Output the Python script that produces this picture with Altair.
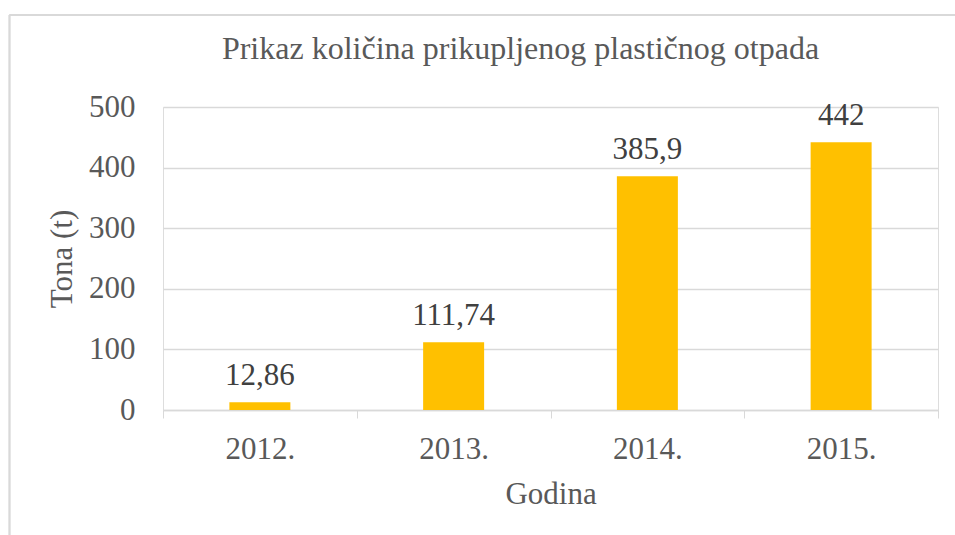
import altair as alt
import pandas as pd

years = ["2012.", "2013.", "2014.", "2015."]
values = [12.86, 111.74, 385.9, 442]
labels = ["12,86", "111,74", "385,9", "442"]

df = pd.DataFrame({"year": years, "value": values, "label": labels})

FONT = "Liberation Serif, 'Times New Roman', Times, serif"
TXT = "#595959"
GRID = "#d9d9d9"
W, H = 775, 303

x_enc = alt.X(
    "year:N",
    sort=years,
    scale=alt.Scale(paddingInner=0, paddingOuter=0),
    axis=alt.Axis(
        title="Godina",
        labelAngle=0,
        labelFont=FONT,
        labelFontSize=31,
        labelColor=TXT,
        labelBaseline="alphabetic",
        labelPadding=40,
        tickBand="extent",
        tickColor=GRID,
        tickSize=8,
        domainColor=GRID,
        domainWidth=1.5,
        grid=False,
        titleFont=FONT,
        titleFontSize=31,
        titleFontWeight="normal",
        titleColor=TXT,
        titleBaseline="alphabetic",
        titleAlign="center",
        titleX=W / 2,
        titleY=93,
    ),
)

y_enc = alt.Y(
    "value:Q",
    scale=alt.Scale(domain=[0, 500]),
    axis=alt.Axis(
        title="Tona (t)",
        values=[0, 100, 200, 300, 400, 500],
        labelFont=FONT,
        labelFontSize=31,
        labelColor=TXT,
        labelPadding=28,
        ticks=False,
        domain=False,
        gridColor=GRID,
        gridWidth=1.5,
        titleFont=FONT,
        titleFontSize=31,
        titleFontWeight="normal",
        titleColor=TXT,
        titleAngle=270,
        titleBaseline="middle",
        titleAlign="center",
        titleX=-101,
        titleY=H / 2,
    ),
)

bars = alt.Chart(df).mark_bar(size=61, color="#FFC000").encode(x=x_enc, y=y_enc)

text = alt.Chart(df).mark_text(
    font=FONT, fontSize=31, color="#404040", baseline="alphabetic", dy=-17
).encode(x=alt.X("year:N", sort=years), y="value:Q", text="label:N")

frame_left = alt.Chart(df).mark_rule(color=GRID, strokeWidth=1.5).encode(
    x=alt.value(-153.5), y=alt.value(-92), y2=alt.value(440)
)
frame_top = alt.Chart(df).mark_rule(color=GRID, strokeWidth=1.5).encode(
    x=alt.value(-153.5), x2=alt.value(800), y=alt.value(-92)
)

chart = (
    alt.layer(frame_left, frame_top, bars, text)
    .properties(
        width=W,
        height=H,
        autosize=alt.AutoSizeParams(type="none"),
        padding={"left": 163, "top": 107, "right": 17, "bottom": 125},
        title=alt.TitleParams(
            "Prikaz količina prikupljenog plastičnog otpada",
            font=FONT,
            fontSize=32,
            fontWeight="normal",
            color=TXT,
            frame="group",
            anchor="middle",
            baseline="alphabetic",
            offset=0,
            dy=77,
            dx=-30,
        ),
    )
    .configure_view(stroke=None)
    .configure(background="white")
)

chart.save("out.html", embed_options={"renderer": "svg", "actions": False})
